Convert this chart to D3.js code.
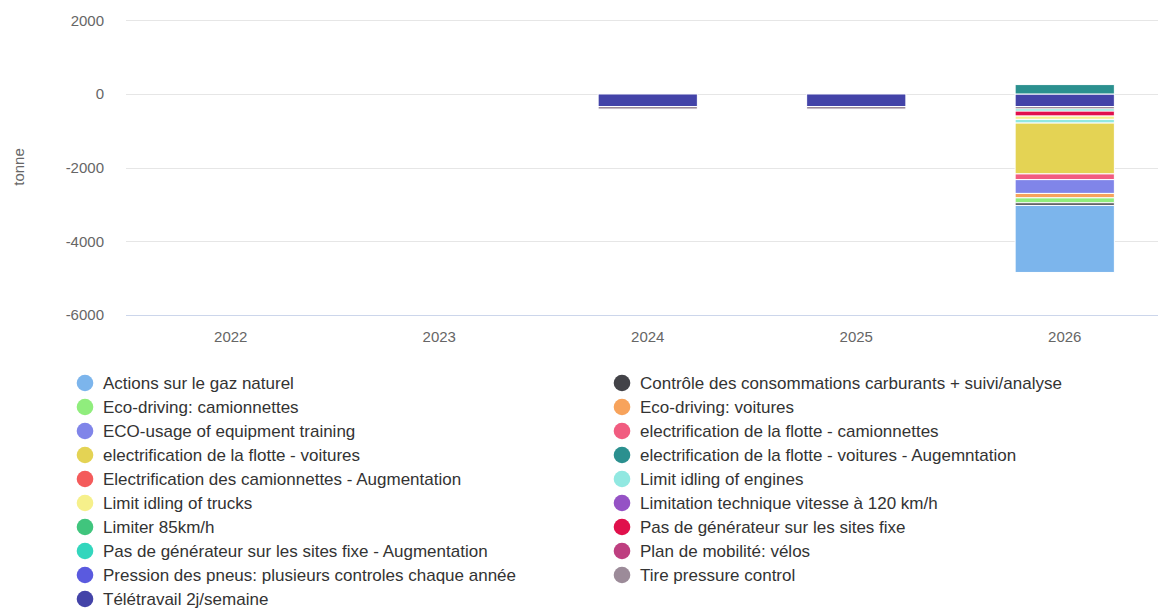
<!DOCTYPE html>
<html>
<head>
<meta charset="utf-8">
<script src="https://cdn.jsdelivr.net/npm/d3@7"></script>
<style>
body{margin:0;background:#fff}
svg{display:block;font-family:"Liberation Sans",Arial,Helvetica,sans-serif}
</style>
</head>
<body>
<div id="chart"></div>
<script>
'use strict'
// categories
const years=['2022','2023','2024','2025','2026']
const yTicks=[-6000,-4000,-2000,0,2000]
// series, in legend order
const seriesNames=[
'Actions sur le gaz naturel',
'Contrôle des consommations carburants + suivi/analyse',
'Eco-driving: camionnettes',
'Eco-driving: voitures',
'ECO-usage of equipment training',
'electrification de la flotte - camionnettes',
'electrification de la flotte - voitures',
'electrification de la flotte - voitures - Augemntation',
'Electrification des camionnettes - Augmentation',
'Limit idling of engines',
'Limit idling of trucks',
'Limitation technique vitesse à 120 km/h',
'Limiter 85km/h',
'Pas de générateur sur les sites fixe',
'Pas de générateur sur les sites fixe - Augmentation',
'Plan de mobilité: vélos',
'Pression des pneus: plusieurs controles chaque année',
'Tire pressure control',
'Télétravail 2j/semaine']
const seriesColors=['#7cb5ec','#434348','#90ed7d','#f7a35c','#8085e9','#f15c80','#e4d354','#2b908f','#f45b5b','#91e8e1',
'#f6f08b','#9552c5','#40c57d','#e0104c','#33d6bd','#be3f80','#5a5adf','#9c8b99','#4343a8']
// values per series, one per year (tonne)
const seriesValues=[
[0,0,0,0,-1820],
[0,0,0,0,-70],
[0,0,0,0,-135],
[0,0,0,0,-120],
[0,0,0,0,-375],
[0,0,0,0,-155],
[0,0,0,0,-1380],
[0,0,0,0,255],
[0,0,0,0,0],
[0,0,0,0,-100],
[0,0,0,0,-90],
[0,0,0,0,0],
[0,0,0,0,0],
[0,0,0,0,-135],
[0,0,0,0,-55],
[0,0,0,0,0],
[0,0,0,0,0],
[0,0,-70,-70,-70],
[0,0,-340,-340,-340]]

let width=1158
let height=608
let svg=d3.select('#chart').append('svg').attr('width',width).attr('height',height)

let x=d3.scaleBand().domain(years).range([126.5,1169]).padding(0)
let y=d3.scaleLinear().domain([-6000,2000]).range([315,20.3])
let barW=x.bandwidth()*0.476

// table for d3.stack: last series sits next to zero
let table=years.map((yr,i)=>{let row={year:yr};seriesNames.forEach((n,j)=>{row[n]=seriesValues[j][i]});return row})
let keys=seriesNames.slice().reverse()
let stacked=d3.stack().keys(keys).offset(d3.stackOffsetDiverging)(table)

// grid
let grid=svg.append('g')
grid.selectAll('line').data(yTicks.filter(d=>d!=-6000)).enter().append('line')
.attr('x1',126).attr('x2',width).attr('y1',d=>Math.round(y(d))+0.5).attr('y2',d=>Math.round(y(d))+0.5)
.attr('stroke','#e6e6e6')

// y axis labels
let yAxis=d3.axisLeft(y).tickValues(yTicks).tickFormat(d=>String(d)).tickSize(0).tickPadding(0)
let ya=svg.append('g').attr('transform','translate(104,0)').call(yAxis)
ya.select('.domain').remove()
ya.selectAll('text').attr('fill','#666').style('font-size','15px').style('font-family','"Liberation Sans",Arial,sans-serif')

svg.append('text').attr('transform','translate(24,167)rotate(-90)').attr('text-anchor','middle')
.attr('fill','#666').style('font-size','15px').text('tonne')

// bars
let layers=svg.append('g').selectAll('g').data(stacked).enter().append('g')
.attr('fill',d=>seriesColors[seriesNames.indexOf(d.key)])
layers.selectAll('rect').data(d=>d.filter(p=>p[1]-p[0]!=0)).enter().append('rect')
.attr('x',d=>x(d.data.year)+(x.bandwidth()-barW)/2)
.attr('y',d=>y(Math.max(d[0],d[1])))
.attr('width',barW)
.attr('height',d=>Math.abs(y(d[0])-y(d[1])))
.attr('stroke','#fff').attr('stroke-width',1)

// x axis
let xAxis=d3.axisBottom(x).tickSize(0).tickPadding(0)
let xa=svg.append('g').attr('transform','translate(0,315)').call(xAxis)
xa.select('.domain').attr('d','M126,0.5H'+width).attr('stroke','#ccd6eb')
xa.selectAll('text').attr('fill','#666').attr('dy','1.8em').style('font-size','15px').style('font-family','"Liberation Sans",Arial,sans-serif')

// legend, two columns
let legend=svg.append('g').selectAll('g').data(seriesNames).enter().append('g')
.attr('transform',(d,i)=>'translate('+(i%2==0?85:622)+','+(383+Math.floor(i/2)*24)+')')
legend.append('circle').attr('r',8.3).attr('fill',(d,i)=>seriesColors[i])
legend.append('text').attr('x',18).attr('dy','0.35em').attr('fill','#333').style('font-size','17px').text(d=>d)
</script>
</body>
</html>
